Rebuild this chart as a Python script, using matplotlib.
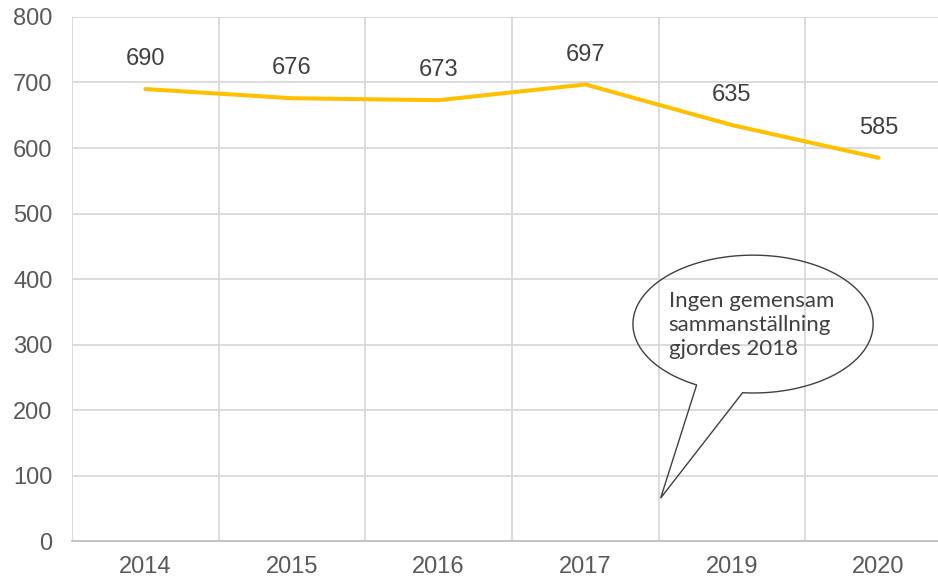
import numpy as np
import matplotlib
matplotlib.use('Agg')
import matplotlib.pyplot as plt
from matplotlib.path import Path
from matplotlib.patches import PathPatch

# Data
years = ['2014', '2015', '2016', '2017', '2019', '2020']
values = [690, 676, 673, 697, 635, 585]
y_ticks = [0, 100, 200, 300, 400, 500, 600, 700, 800]
note = 'Ingen gemensam\nsammanställning\ngjordes 2018'

plt.rcParams['font.family'] = ['Liberation Sans', 'DejaVu Sans']

fig = plt.figure(figsize=(9.38, 5.82), dpi=100)
ax = fig.add_axes([0.0768, 0.0704, 0.938, 0.9004])

x = np.arange(len(years))
ax.plot(x, values, color='#FFC000', lw=2.9, solid_capstyle='round', zorder=3)

for xi, v in zip(x, values):
    ax.annotate(str(v), (xi, v), xytext=(0, 21.5), textcoords='offset points',
                ha='center', va='center', fontsize=17, color='#404040')

ax.set_xlim(-0.5, len(years) - 0.5)
ax.set_ylim(0, 800)
ax.set_xticks(x)
ax.set_xticklabels(years)
ax.set_xticks(np.arange(len(years) + 1) - 0.5, minor=True)
ax.set_yticks(y_ticks)
ax.grid(True, which='minor', axis='x', color='#D9D9D9', lw=1.3)
ax.grid(True, which='major', axis='y', color='#D9D9D9', lw=1.3)
ax.tick_params(axis='both', which='both', length=0, labelsize=17, labelcolor='#595959')
ax.tick_params(axis='y', pad=14)
ax.tick_params(axis='x', pad=11)
for s in ['top', 'right', 'left']:
    ax.spines[s].set_visible(False)
ax.spines['bottom'].set_color('#BFBFBF')
ax.spines['bottom'].set_linewidth(1.3)
ax.set_axisbelow(True)

# speech bubble (axes fraction)
cx, cy, a, b = 0.774, 0.414, 0.1365, 0.1315
t0, t1 = np.radians(265), np.radians(242 + 360)
ts = np.linspace(t0, t1, 200)
pts = [(cx + a * np.cos(t), cy + b * np.sin(t)) for t in ts]
pts.append((0.669, 0.082))
pts.append(pts[0])
codes = [Path.MOVETO] + [Path.LINETO] * (len(pts) - 2) + [Path.CLOSEPOLY]
bubble = PathPatch(Path(pts, codes), transform=ax.transAxes, facecolor='none',
                   edgecolor='#404040', lw=1.0, zorder=4, clip_on=False)
ax.add_patch(bubble)
ax.text(0.678, 0.412, note, transform=ax.transAxes, ha='left', va='center',
        fontsize=16, family=['Lato', 'DejaVu Sans'], color='#404040',
        linespacing=1.25, zorder=5)

fig.savefig('out.png', dpi=100)
